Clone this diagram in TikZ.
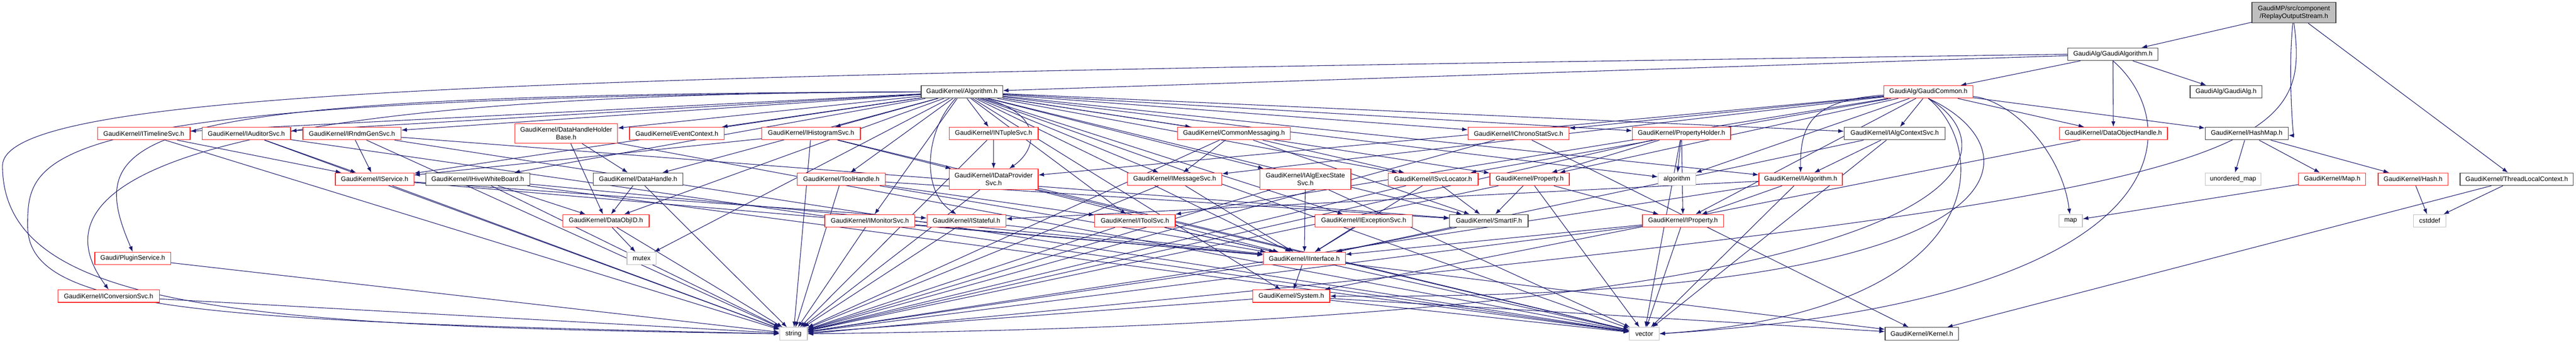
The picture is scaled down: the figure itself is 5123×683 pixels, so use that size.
\documentclass[tikz,border=0pt]{standalone}
\usepackage{fontspec}
\setmainfont{Liberation Sans}
\usetikzlibrary{arrows.meta,backgrounds}
\definecolor{edgeblue}{RGB}{25,25,112}
\definecolor{boxred}{RGB}{255,30,30}
\definecolor{boxgrey}{RGB}{191,191,191}
\definecolor{boxdark}{RGB}{60,60,60}
\newcommand{\dotfont}{\fontsize{13}{15}\selectfont}

\begin{document}
\begin{tikzpicture}[x=1pt,y=-1pt,
    file/.style={draw,fill=white,line width=1.3pt,minimum height=25pt,inner sep=1pt,font=\dotfont,align=center},
    hidden/.style={file,draw=boxred},
    shown/.style={file,draw=boxdark},
    sys/.style={file,draw=boxgrey},
    dep/.style={->,>={Latex[length=11pt,width=8pt]},edgeblue,line width=1.1pt,draw}]

    \useasboundingbox (0,0) rectangle (5123,683);

    % top of the graph
    \node[shown,fill=boxgrey,minimum width=167,minimum height=41] (root) at (4562,25) {GaudiMP/src/component\\/ReplayOutputStream.h};
    \node[shown,minimum width=179] (galgo) at (4202,108) {GaudiAlg/GaudiAlgorithm.h};
    \node[shown,minimum width=162] (algo) at (1913,183) {GaudiKernel/Algorithm.h};
    \node[hidden,minimum width=177] (gcommon) at (3835,183) {GaudiAlg/GaudiCommon.h};
    \node[shown,minimum width=143] (galg) at (4427,183) {GaudiAlg/GaudiAlg.h};

    % third row
    \node[hidden,minimum width=184] (timeline) at (286,266) {GaudiKernel/ITimelineSvc.h};
    \node[hidden,minimum width=176] (auditor) at (490,266) {GaudiKernel/IAuditorSvc.h};
    \node[hidden,minimum width=195] (rndm) at (700,266) {GaudiKernel/IRndmGenSvc.h};
    \node[hidden,minimum width=204,minimum height=39] (dhhb) at (1126,266) {GaudiKernel/DataHandleHolder\\Base.h};
    \node[hidden,minimum width=188] (evctx) at (1346,266) {GaudiKernel/EventContext.h};
    \node[hidden,minimum width=196] (histo) at (1613,266) {GaudiKernel/IHistogramSvc.h};
    \node[hidden,minimum width=177] (ntuple) at (1976,266) {GaudiKernel/INTupleSvc.h};
    \node[hidden,minimum width=224] (cmsg) at (2454,266) {GaudiKernel/CommonMessaging.h};
    \node[hidden,minimum width=201] (chrono) at (3020,266) {GaudiKernel/IChronoStatSvc.h};
    \node[hidden,minimum width=195] (propholder) at (3344,266) {GaudiKernel/PropertyHolder.h};
    \node[shown,minimum width=201] (algctx) at (3768,266) {GaudiKernel/IAlgContextSvc.h};
    \node[hidden,minimum width=215] (dohandle) at (4203,266) {GaudiKernel/DataObjectHandle.h};
    \node[shown,minimum width=165] (hashmap) at (4468,266) {GaudiKernel/HashMap.h};

    % fourth row
    \node[hidden,minimum width=156] (iservice) at (745,357) {GaudiKernel/IService.h};
    \node[shown,minimum width=207] (hivewb) at (950,357) {GaudiKernel/IHiveWhiteBoard.h};
    \node[shown,minimum width=178] (dhandle) at (1269,357) {GaudiKernel/DataHandle.h};
    \node[hidden,minimum width=175] (toolhandle) at (1673,357) {GaudiKernel/ToolHandle.h};
    \node[hidden,minimum width=177,minimum height=41] (dataprov) at (1976,357) {GaudiKernel/IDataProvider\\Svc.h};
    \node[hidden,minimum width=188] (msgsvc) at (2336,357) {GaudiKernel/IMessageSvc.h};
    \node[hidden,minimum width=181,minimum height=41] (execstate) at (2596,357) {GaudiKernel/IAlgExecState\\Svc.h};
    \node[hidden,minimum width=179] (svcloc) at (2850,357) {GaudiKernel/ISvcLocator.h};
    \node[hidden,minimum width=158] (property) at (3042,357) {GaudiKernel/Property.h};
    \node[sys,minimum width=75] (stdalgo) at (3335,357) {algorithm};
    \node[hidden,minimum width=166] (ialgorithm) at (3581,357) {GaudiKernel/IAlgorithm.h};
    \node[sys,minimum width=111] (unordmap) at (4441,357) {unordered\_map};
    \node[hidden,minimum width=133] (gmap) at (4638,357) {GaudiKernel/Map.h};
    \node[hidden,minimum width=139] (ghash) at (4799,357) {GaudiKernel/Hash.h};
    \node[shown,minimum width=225] (tlctx) at (5005,357) {GaudiKernel/ThreadLocalContext.h};

    % fifth row
    \node[hidden,minimum width=172] (dataobjid) at (1205,440) {GaudiKernel/DataObjID.h};
    \node[hidden,minimum width=179] (monitor) at (1730,440) {GaudiKernel/IMonitorSvc.h};
    \node[hidden,minimum width=157] (stateful) at (1922,440) {GaudiKernel/IStateful.h};
    \node[hidden,minimum width=160] (toolsvc) at (2257,440) {GaudiKernel/IToolSvc.h};
    \node[hidden,minimum width=194] (exception) at (2712,440) {GaudiKernel/IExceptionSvc.h};
    \node[shown,minimum width=156] (smartif) at (2961,440) {GaudiKernel/SmartIF.h};
    \node[hidden,minimum width=161] (iproperty) at (3347,440) {GaudiKernel/IProperty.h};
    \node[sys,minimum width=47] (map) at (4118,440) {map};
    \node[sys,minimum width=65] (cstddef) at (4832,440) {cstddef};

    % lower rows
    \node[hidden,minimum width=151] (plugin) at (264,515) {Gaudi/PluginService.h};
    \node[sys,minimum width=58] (mutex) at (1276,515) {mutex};
    \node[hidden,minimum width=163] (iinterface) at (2594,515) {GaudiKernel/IInterface.h};
    \node[hidden,minimum width=202] (conversion) at (216,590) {GaudiKernel/IConversionSvc.h};
    \node[hidden,minimum width=153] (system) at (2568,590) {GaudiKernel/System.h};
    \node[sys,minimum width=55] (string) at (1578,665) {string};
    \node[sys,minimum width=59] (vector) at (3270,665) {vector};
    \node[shown,minimum width=146] (kernel) at (3822,665) {GaudiKernel/Kernel.h};

    \begin{scope}[on background layer]
    % from the file itself
    \path[dep] (root) -- (galgo);
    \path[dep] (root) .. controls (4550,140) and (4560,270) .. (hashmap);
    \path[dep] (root) -- (tlctx);
    \path[dep] (root.south) .. controls (4600,330) and (4480,395) .. (string.east);

    % GaudiAlgorithm.h
    \path[dep] (galgo) -- (algo);
    \path[dep] (galgo) -- (gcommon);
    \path[dep] (galgo) -- (galg);
    \path[dep] (galgo) -- (dohandle);
    \path[dep] (galgo.south) .. controls (4350,250) and (4350,600) .. (vector.east);
    \path[dep] (galgo.west) .. controls (1200,150) and (8,170) .. (5,330) .. controls (5,620) and (500,650) .. (string.west);

    % GaudiCommon.h
    \path[dep] (gcommon) -- (chrono);
    \path[dep] (gcommon) -- (algctx);
    \path[dep] (gcommon) -- (dohandle);
    \path[dep] (gcommon) -- (hashmap);
    \path[dep] (gcommon) .. controls (3600,200) and (3580,250) .. (ialgorithm);
    \path[dep] (gcommon) -- (stdalgo);
    \path[dep] (gcommon) .. controls (4000,200) and (4100,300) .. (map);
    \path[dep] (gcommon) -- (property);
    \path[dep] (gcommon) -- (svcloc);
    \path[dep] (gcommon) -- (msgsvc);
    \path[dep] (gcommon) -- (toolsvc);
    \path[dep] (gcommon) -- (dataprov);
    \path[dep] (gcommon) -- (iproperty);
    \path[dep] (gcommon.south) .. controls (3960,300) and (3960,620) .. (vector.east);
    \path[dep] (gcommon.south) .. controls (4010,300) and (4010,640) .. (string.east);
    \path[dep] (gcommon.south) .. controls (4060,300) and (4060,600) .. (system.east);

    % Algorithm.h
    \path[dep] (algo) -- (timeline);
    \path[dep] (algo) -- (auditor);
    \path[dep] (algo) -- (rndm);
    \path[dep] (algo) -- (dhhb);
    \path[dep] (algo) -- (evctx);
    \path[dep] (algo) -- (histo);
    \path[dep] (algo) -- (ntuple);
    \path[dep] (algo) -- (cmsg);
    \path[dep] (algo) -- (chrono);
    \path[dep] (algo) -- (propholder);
    \path[dep] (algo) -- (algctx);
    \path[dep] (algo) -- (iservice);
    \path[dep] (algo) -- (hivewb);
    \path[dep] (algo) -- (dhandle);
    \path[dep] (algo) -- (toolhandle);
    \path[dep] (algo) .. controls (2080,230) and (2060,300) .. (dataprov);
    \path[dep] (algo) -- (msgsvc);
    \path[dep] (algo) -- (execstate);
    \path[dep] (algo) -- (svcloc);
    \path[dep] (algo) -- (property);
    \path[dep] (algo) -- (stdalgo);
    \path[dep] (algo) -- (ialgorithm);
    \path[dep] (algo) -- (monitor);
    \path[dep] (algo) .. controls (1840,260) and (1830,380) .. (stateful);
    \path[dep] (algo) -- (toolsvc);
    \path[dep] (algo) -- (exception);
    \path[dep] (algo) -- (dataobjid);
    \path[dep] (algo) -- (mutex);
    \path[dep] (algo) -- (smartif);
    \path[dep] (algo) -- (iinterface);
    \path[dep] (algo) -- (system);
    \path[dep] (algo) -- (vector);
    \path[dep] (algo.west) .. controls (250,188) and (160,260) .. (plugin.north);
    \path[dep] (algo.west) .. controls (150,186) and (100,420) .. (conversion.north);
    \path[dep] (algo.west) .. controls (70,195) and (55,300) .. (55,450) .. controls (55,620) and (400,640) .. (string.west);

    % third row
    \path[dep] (timeline) -- (iservice);
    \path[dep] (timeline) -- (string);
    \path[dep] (auditor) -- (iservice);
    \path[dep] (auditor) -- (string);
    \path[dep] (auditor) -- (vector);
    \path[dep] (rndm) -- (iservice);
    \path[dep] (rndm) -- (string);
    \path[dep] (rndm) -- (vector);
    \path[dep] (rndm) -- (smartif);
    \path[dep] (dhhb) -- (dhandle);
    \path[dep] (dhhb) -- (dataobjid);
    \path[dep] (dhhb) -- (vector);
    \path[dep] (histo) -- (iservice);
    \path[dep] (histo) -- (dataprov);
    \path[dep] (histo) -- (string);
    \path[dep] (histo) -- (vector);
    \path[dep] (ntuple) -- (dataprov);
    \path[dep] (ntuple) -- (string);
    \path[dep] (cmsg) -- (msgsvc);
    \path[dep] (cmsg) -- (svcloc);
    \path[dep] (cmsg) -- (smartif);
    \path[dep] (cmsg) -- (string);
    \path[dep] (chrono) -- (kernel);
    \path[dep] (chrono) -- (string);
    \path[dep] (propholder) -- (property);
    \path[dep] (propholder) -- (stdalgo);
    \path[dep] (propholder) -- (iproperty);
    \path[dep] (propholder) -- (string);
    \path[dep] (propholder) -- (vector);
    \path[dep] (algctx) -- (ialgorithm);
    \path[dep] (algctx) -- (iinterface);
    \path[dep] (algctx) -- (vector);
    \path[dep] (dohandle) -- (system);
    \path[dep] (hashmap) -- (unordmap);
    \path[dep] (hashmap) -- (gmap);
    \path[dep] (hashmap) -- (ghash);

    % fourth row
    \path[dep] (iservice) -- (stateful);
    \path[dep] (iservice) -- (iinterface);
    \path[dep] (iservice) -- (string);
    \path[dep] (hivewb) -- (dataobjid);
    \path[dep] (hivewb) -- (iinterface);
    \path[dep] (hivewb) -- (string);
    \path[dep] (hivewb) -- (vector);
    \path[dep] (dhandle) -- (dataobjid);
    \path[dep] (dhandle) -- (string);
    \path[dep] (toolhandle) -- (toolsvc);
    \path[dep] (toolhandle) -- (string);
    \path[dep] (toolhandle) -- (smartif);
    \path[dep] (toolhandle) -- (iinterface);
    \path[dep] (dataprov) -- (string);
    \path[dep] (dataprov) -- (iinterface);
    \path[dep] (dataprov) -- (vector);
    \path[dep] (msgsvc) -- (string);
    \path[dep] (msgsvc) -- (iinterface);
    \path[dep] (execstate) -- (iinterface);
    \path[dep] (execstate) -- (string);
    \path[dep] (execstate) -- (vector);
    \path[dep] (svcloc) -- (iinterface);
    \path[dep] (svcloc) -- (smartif);
    \path[dep] (svcloc) -- (string);
    \path[dep] (property) -- (smartif);
    \path[dep] (property) -- (iproperty);
    \path[dep] (property) -- (string);
    \path[dep] (property) -- (vector);
    \path[dep] (ialgorithm) -- (iproperty);
    \path[dep] (ialgorithm) -- (stateful);
    \path[dep] (ialgorithm) -- (string);
    \path[dep] (ialgorithm) -- (vector);
    \path[dep] (gmap) -- (map);
    \path[dep] (ghash) -- (cstddef);
    \path[dep] (tlctx) -- (cstddef);
    \path[dep] (tlctx) -- (kernel);

    % fifth row and below
    \path[dep] (dataobjid) -- (mutex);
    \path[dep] (dataobjid) -- (string);
    \path[dep] (monitor) -- (iinterface);
    \path[dep] (monitor) -- (string);
    \path[dep] (stateful) -- (iinterface);
    \path[dep] (stateful) -- (string);
    \path[dep] (toolsvc) -- (iinterface);
    \path[dep] (toolsvc) -- (string);
    \path[dep] (toolsvc) -- (vector);
    \path[dep] (exception) -- (iinterface);
    \path[dep] (smartif) -- (iinterface);
    \path[dep] (iproperty) -- (iinterface);
    \path[dep] (iproperty) -- (string);
    \path[dep] (iproperty) -- (vector);
    \path[dep] (plugin) -- (string);
    \path[dep] (iinterface) -- (system);
    \path[dep] (iinterface) -- (kernel);
    \path[dep] (iinterface) -- (string);
    \path[dep] (conversion) -- (string);
    \path[dep] (system) -- (kernel);
    \path[dep] (system) -- (string);
    \path[dep] (system) -- (vector);
    \end{scope}
\end{tikzpicture}
\end{document}
